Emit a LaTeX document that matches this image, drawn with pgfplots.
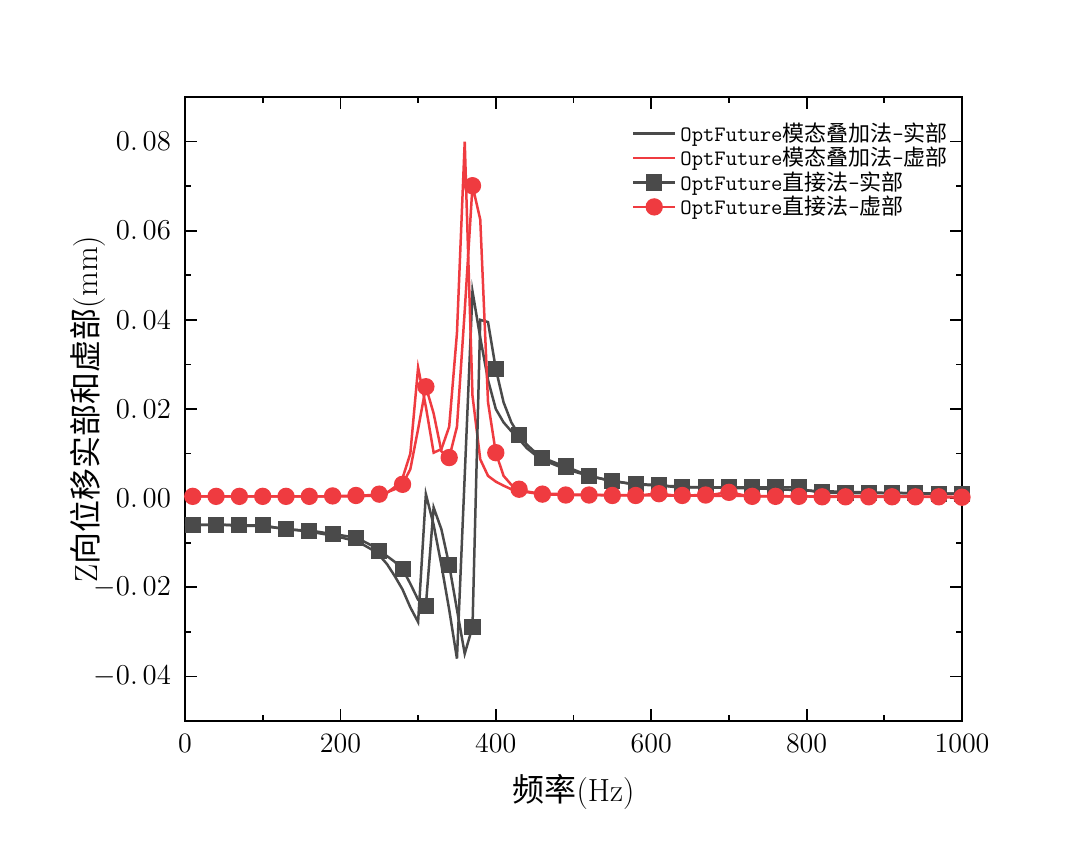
\documentclass[border=0pt]{standalone}
\usepackage{pgfplots}
\pgfplotsset{compat=1.18}
\usepackage{fontspec}
\newfontfamily\cjk{Noto Sans CJK SC}
\definecolor{dgray}{HTML}{4A4A4A}
\definecolor{cred}{HTML}{EF3B40}
\begin{document}
\begin{tikzpicture}
\useasboundingbox (-92.5pt,-64.5pt) rectangle (447.5pt,360.5pt);
\begin{axis}[
  scale only axis, width=388.5pt, height=312pt,
  at={(0,0)}, anchor=south west,
  xmin=0, xmax=1000, ymin=-0.05, ymax=0.09,
  xtick={0,200,400,600,800,1000},
  xticklabels={0,200,400,600,800,1000},
  minor xtick={100,300,500,700,900},
  ytick={-0.04,-0.02,0,0.02,0.04,0.06,0.08},
  yticklabels={$-0.\,04$,$-0.\,02$,$0.\,00$,$0.\,02$,$0.\,04$,$0.\,06$,$0.\,08$},
  minor ytick={-0.05,-0.03,-0.01,0.01,0.03,0.05,0.07,0.09},
  tick align=inside, tick pos=both,
  major tick length=6pt, minor tick length=3pt,
  every tick/.style={black, line width=0.9pt},
  axis line style={line width=1pt},
  scaled y ticks=false,
  tick label style={font=\fontsize{14}{16}\selectfont},
  xticklabel style={yshift=-3pt},
  yticklabel style={xshift=-3.5pt},
  every axis y label/.style={at={(axis description cs:-0.125,0.5)}, rotate=90, anchor=center, font=\fontsize{16}{18}\selectfont},
  every axis x label/.style={at={(axis description cs:0.5,-0.114)}, anchor=center, font=\fontsize{16}{18}\selectfont},
  xlabel={{\cjk 频率}(Hz)},
  ylabel={Z{\cjk 向位移实部和虚部}(mm)},
  legend style={at={(0.567,0.972)}, anchor=north west, draw=none, fill=none,
    font=\fontsize{11}{12}\selectfont, row sep=-2.6pt,
    /tikz/every even column/.append style={column sep=2pt}},
  legend cell align=left,
  legend image code/.code={\draw[mark repeat=2,mark phase=2,#1] plot coordinates {(0pt,0pt) (10.5pt,0pt) (21pt,0pt)};},
]
% modal real
\addplot[dgray, line width=1.25pt, mark=none] coordinates {
(0,-0.0060)(10,-0.0060)(20,-0.0060)(30,-0.0060)(40,-0.0060)(50,-0.0060)(60,-0.0061)(70,-0.0061)(80,-0.0062)(90,-0.0062)(100,-0.0063)
(110,-0.0065)(120,-0.0067)(130,-0.0069)(140,-0.0071)(150,-0.0073)(160,-0.0075)(170,-0.0078)(180,-0.0081)(190,-0.0084)(200,-0.0088)
(210,-0.0092)(220,-0.0098)(230,-0.0105)(240,-0.0115)(250,-0.0128)(260,-0.0148)(270,-0.0175)(280,-0.0205)(290,-0.0245)(300,-0.0278)
(310,0.0009)(320,-0.0060)(330,-0.0150)(340,-0.0250)(350,-0.0360)(360,0.0050)(370,0.0464)(380,0.0360)(390,0.0265)(400,0.0200)
(410,0.0170)(420,0.0150)(430,0.0132)(440,0.0112)(450,0.0098)(460,0.0088)(470,0.0079)(480,0.0072)(490,0.0066)(500,0.0060)
(520,0.0050)(540,0.0042)(560,0.0036)(580,0.0031)(600,0.0029)(650,0.0025)(700,0.0023)(750,0.0021)(800,0.0017)(850,0.0014)
(900,0.0012)(950,0.0011)(1000,0.0010)};
\addlegendentry{\ttfamily OptFuture{\cjk 模态叠加法}-{\cjk 实部}}
% modal imaginary
\addplot[cred, line width=1.25pt, mark=none] coordinates {
(0,0.0004)(50,0.0004)(100,0.0004)(150,0.0004)(200,0.0004)(240,0.0005)(250,0.0007)(260,0.0012)(270,0.0025)(280,0.0045)(290,0.0100)
(300,0.0293)(310,0.0205)(320,0.0102)(330,0.0110)(340,0.0160)(350,0.0370)(360,0.0800)(370,0.0230)(380,0.0087)(390,0.0050)
(400,0.0037)(410,0.0028)(420,0.0020)(430,0.0016)(450,0.0011)(500,0.0008)(600,0.0006)(700,0.0005)(800,0.0004)(900,0.0004)(1000,0.0003)};
\addlegendentry{\ttfamily OptFuture{\cjk 模态叠加法}-{\cjk 虚部}}
% direct real
\addplot[dgray, line width=1.25pt, mark=square*, mark size=3.4pt, mark repeat=3, mark options={solid, fill=dgray}] coordinates {
(10,-0.0060)(20,-0.0060)(30,-0.0060)(40,-0.0060)(50,-0.0060)(60,-0.0060)(70,-0.0060)(80,-0.0061)(90,-0.0061)(100,-0.0061)
(110,-0.0064)(120,-0.0067)(130,-0.0070)(140,-0.0071)(150,-0.0072)(160,-0.0073)(170,-0.0075)(180,-0.0078)(190,-0.0081)(200,-0.0083)
(210,-0.0086)(220,-0.0089)(230,-0.0097)(240,-0.0106)(250,-0.0118)(260,-0.0130)(270,-0.0143)(280,-0.0159)(290,-0.0192)(300,-0.0228)
(310,-0.0241)(320,-0.0021)(330,-0.0070)(340,-0.0150)(350,-0.0250)(360,-0.0349)(370,-0.0289)(380,0.0400)(390,0.0395)(400,0.0290)
(410,0.0215)(420,0.0170)(430,0.0141)(440,0.0120)(450,0.0104)(460,0.0091)(470,0.0084)(480,0.0077)(490,0.0071)(500,0.0064)
(510,0.0057)(520,0.0050)(530,0.0046)(540,0.0042)(550,0.0039)(560,0.0036)(570,0.0033)(580,0.0031)(590,0.0031)(600,0.0030)
(610,0.0030)(620,0.0027)(630,0.0025)(640,0.0024)(650,0.0024)(660,0.0024)(670,0.0024)(680,0.0024)(690,0.0024)(700,0.0024)
(710,0.0024)(720,0.0024)(730,0.0024)(740,0.0024)(750,0.0024)(760,0.0024)(770,0.0024)(780,0.0024)(790,0.0024)(800,0.0018)
(810,0.0015)(820,0.0013)(830,0.0012)(840,0.0012)(850,0.0011)(860,0.0011)(870,0.0011)(880,0.0011)(890,0.0011)(900,0.0011)
(910,0.0011)(920,0.0011)(930,0.0011)(940,0.0011)(950,0.0010)(960,0.0010)(970,0.0010)(980,0.0010)(990,0.0010)(1000,0.0010)};
\addlegendentry{\ttfamily OptFuture{\cjk 直接法}-{\cjk 实部}}
% direct imaginary
\addplot[cred, line width=1.25pt, mark=*, mark size=3.7pt, mark repeat=3, mark options={solid, fill=cred}] coordinates {
(10,0.0004)(20,0.0004)(30,0.0004)(40,0.0004)(50,0.0004)(60,0.0004)(70,0.0004)(80,0.0004)(90,0.0004)(100,0.0004)
(110,0.0004)(120,0.0004)(130,0.0004)(140,0.0004)(150,0.0004)(160,0.0004)(170,0.0004)(180,0.0004)(190,0.0005)(200,0.0005)
(210,0.0005)(220,0.0006)(230,0.0006)(240,0.0007)(250,0.0009)(260,0.0013)(270,0.0020)(280,0.0031)(290,0.0065)(300,0.0155)
(310,0.0250)(320,0.0190)(330,0.0105)(340,0.0091)(350,0.0160)(360,0.0420)(370,0.0701)(380,0.0625)(390,0.0215)(400,0.0102)
(410,0.0050)(420,0.0030)(430,0.0020)(440,0.0015)(450,0.0012)(460,0.0009)(470,0.0008)(480,0.0008)(490,0.0007)(500,0.0007)
(510,0.0007)(520,0.0007)(530,0.0007)(540,0.0006)(550,0.0006)(560,0.0006)(570,0.0006)(580,0.0006)(590,0.0007)(600,0.0009)
(610,0.0010)(620,0.0008)(630,0.0006)(640,0.0006)(650,0.0006)(660,0.0007)(670,0.0007)(680,0.0008)(690,0.0011)(700,0.0013)
(710,0.0010)(720,0.0006)(730,0.0004)(740,0.0004)(750,0.0004)(760,0.0004)(770,0.0004)(780,0.0004)(790,0.0004)(800,0.0004)
(810,0.0003)(820,0.0003)(830,0.0003)(840,0.0003)(850,0.0003)(860,0.0003)(870,0.0003)(880,0.0003)(890,0.0003)(900,0.0003)
(910,0.0003)(920,0.0003)(930,0.0003)(940,0.0003)(950,0.0003)(960,0.0003)(970,0.0003)(980,0.0002)(990,0.0002)(1000,0.0002)};
\addlegendentry{\ttfamily OptFuture{\cjk 直接法}-{\cjk 虚部}}
\end{axis}
\end{tikzpicture}
\end{document}
